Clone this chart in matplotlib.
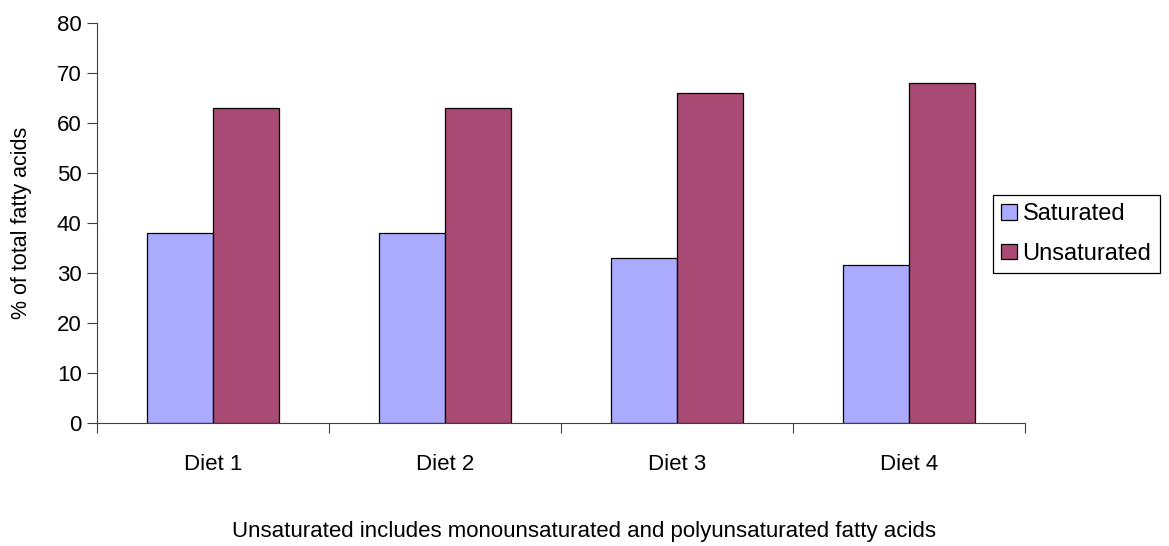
import matplotlib.pyplot as plt
import numpy as np

plt.rcParams['font.family'] = ['Liberation Sans', 'DejaVu Sans']

diets = ["Diet 1", "Diet 2", "Diet 3", "Diet 4"]
saturated = [38, 38, 33, 31.5]
unsaturated = [63, 63, 66, 68]
y_ticks = [0, 10, 20, 30, 40, 50, 60, 70, 80]

fig = plt.figure(figsize=(11.69, 5.46), dpi=100)
ax = fig.add_axes([0.083, 0.2253, 0.794, 0.7326])

x = np.arange(len(diets))
w = 0.285
ax.bar(x - w / 2, saturated, w, color="#AAAAFF", edgecolor="black", linewidth=0.9, label="Saturated")
ax.bar(x + w / 2, unsaturated, w, color="#A94A74", edgecolor="black", linewidth=0.9, label="Unsaturated")

ax.set_xlim(-0.5, len(diets) - 0.5)
ax.set_ylim(0, 80)
ax.set_yticks(y_ticks)

# category boundaries as tick marks, names in between
ax.set_xticks(np.arange(len(diets) + 1) - 0.5)
ax.set_xticklabels([])
ax.set_xticks(x, minor=True)
ax.set_xticklabels(diets, minor=True, fontsize=16)
ax.tick_params(axis="x", which="minor", length=0, pad=22)
ax.tick_params(axis="x", which="major", length=7, direction="out", color="#404040")
ax.tick_params(axis="y", length=7, direction="out", labelsize=16, color="#404040", pad=4)

for s in ["top", "right"]:
    ax.spines[s].set_visible(False)
for s in ["left", "bottom"]:
    ax.spines[s].set_color("#404040")

ax.set_ylabel("% of total fatty acids", fontsize=15.5)
ax.yaxis.set_label_coords(-0.070, 0.5)

leg = fig.legend(loc="center left", bbox_to_anchor=(993 / 1169, 1 - 234 / 546),
                 fontsize=17, fancybox=False, edgecolor="black", framealpha=1,
                 handlelength=0.65, handleheight=0.65, handletextpad=0.25,
                 borderpad=0.35, labelspacing=0.75, borderaxespad=0)
leg.get_frame().set_linewidth(0.9)

fig.text(0.5, 1 - 531 / 546, "Unsaturated includes monounsaturated and polyunsaturated fatty acids",
         ha="center", va="center", fontsize=16)

fig.savefig("out.png", dpi=100)
